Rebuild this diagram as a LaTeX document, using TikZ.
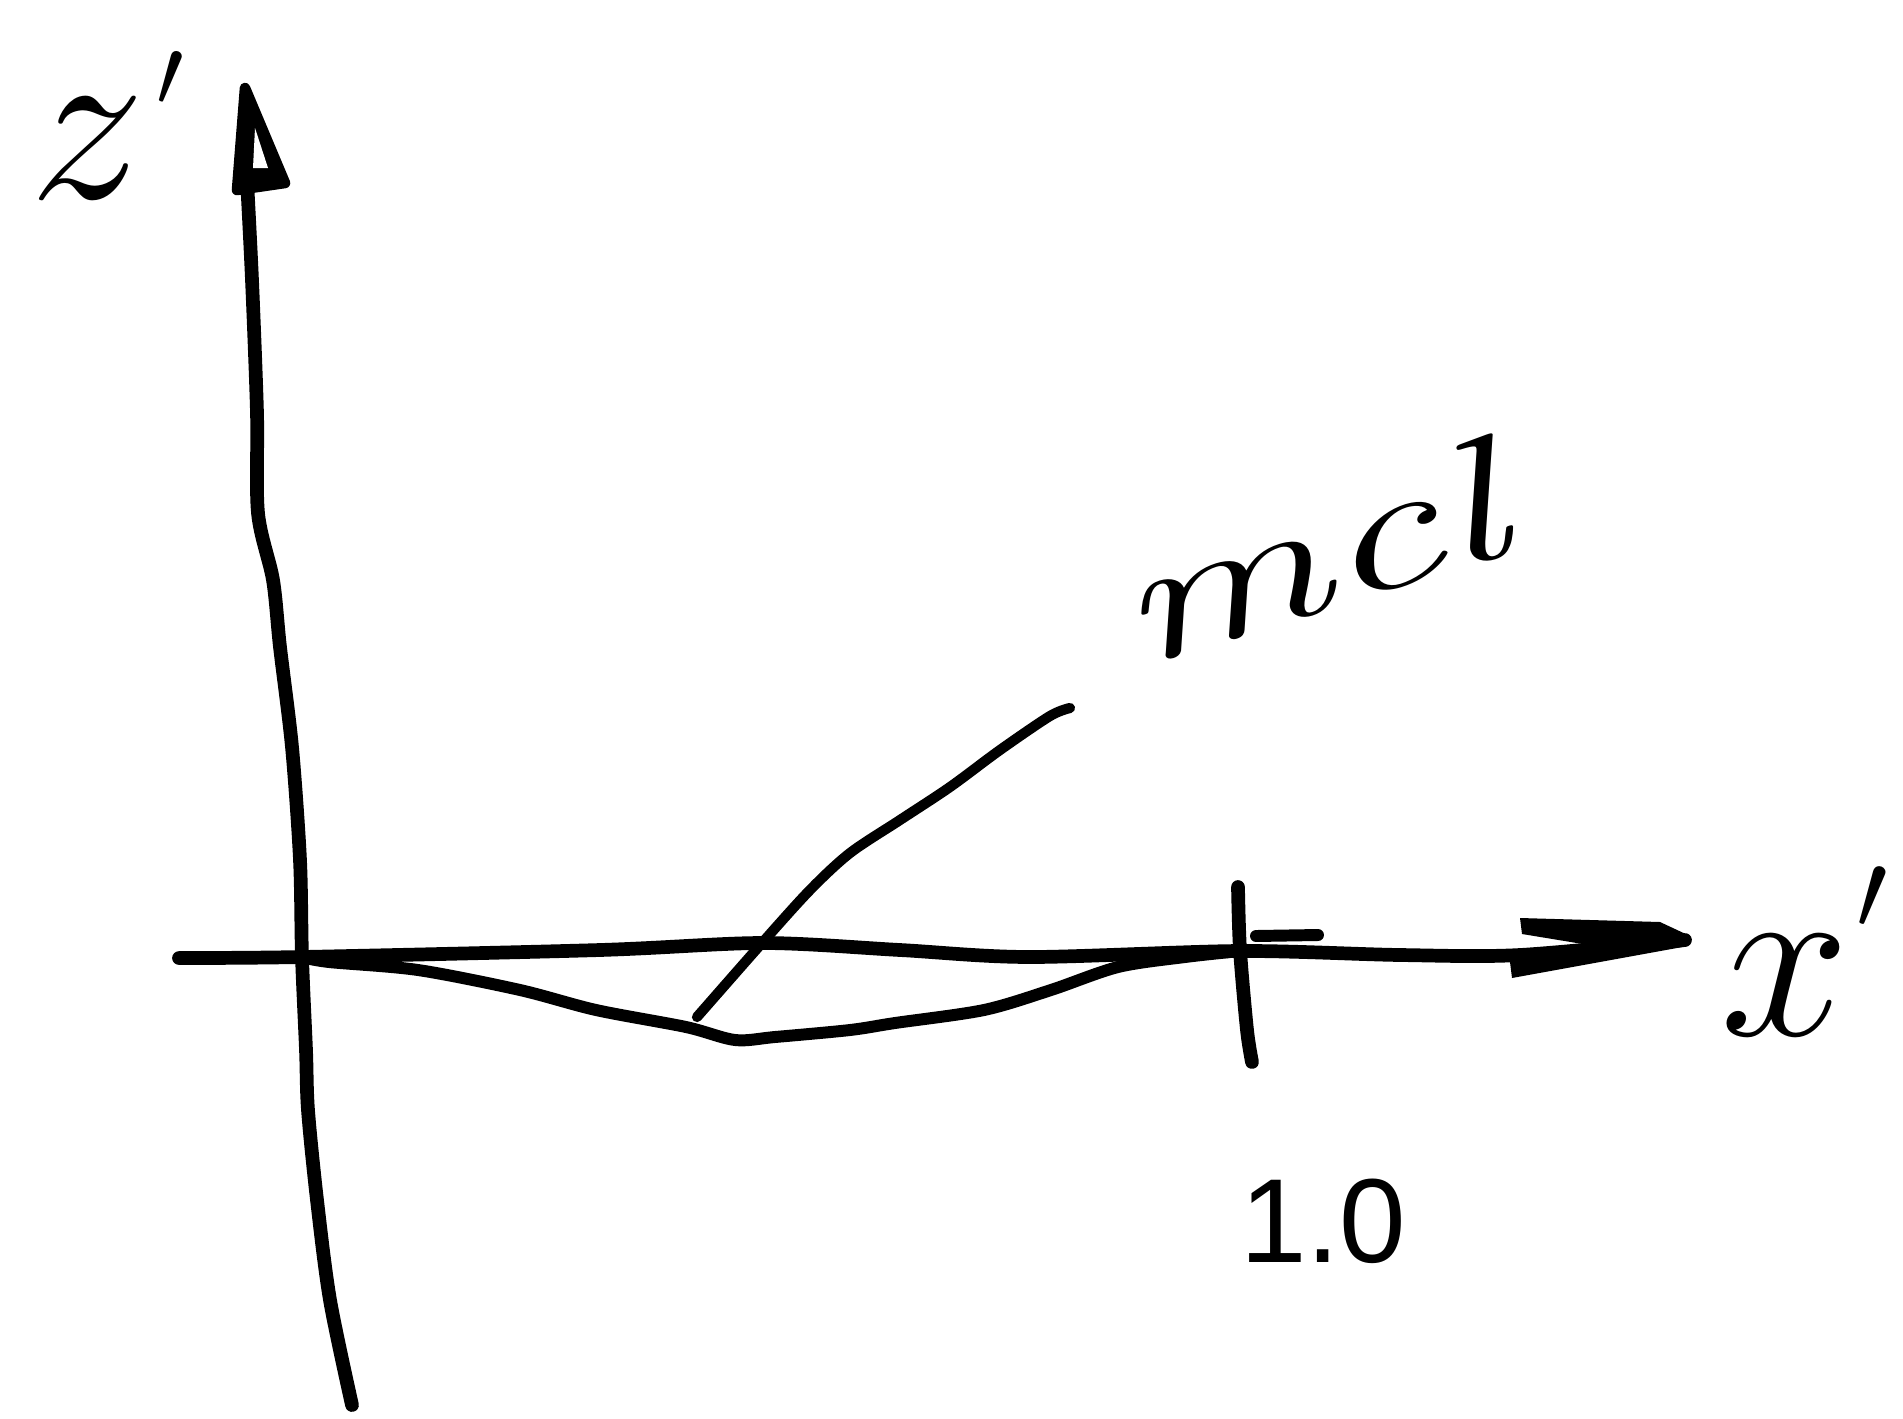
\RequirePackage{fix-cm}
\documentclass[tikz,border=0pt]{standalone}
\usepackage{fontspec}
\newfontfamily\handsans{Liberation Sans}
\begin{document}
\begin{tikzpicture}[x=0.01cm,y=-0.01cm,
  axispen/.style={line width=3.9pt, line cap=round, line join=round},
  curvepen/.style={line width=3.4pt, line cap=round, line join=round},
  leaderpen/.style={line width=2.9pt, line cap=round, line join=round},
  lab/.style={inner sep=0pt, outer sep=0pt}]
\useasboundingbox (0,0) rectangle (1903,1418);
% named points
\coordinate (ztop) at (245,88);
\coordinate (zbot) at (352,1405);
\coordinate (xleft) at (179,958);
\coordinate (xtip) at (1685,940);
\coordinate (origin) at (302,957);
\coordinate (one) at (1240,951);
\coordinate (ticktop) at (1238,887);
\coordinate (tickbot) at (1252,1062);
\coordinate (leadlow) at (697,1017);
\coordinate (leadhigh) at (1070,708);
% z' axis
\draw[axispen] plot[smooth] coordinates {(247,180) (252,280) (257,413) (258,513) (273,580) (280,647) (292,747) (300,860) (origin) (306,1050) (308,1110) (317,1200) (330,1300) (zbot)};
% z' arrowhead
\draw[line width=3pt, line join=round, fill=black] (ztop) -- (285,183) -- (237,190) -- cycle;
\fill[white] (255,128) -- (268,168) -- (253,168) -- cycle;
% x' axis
\draw[axispen] plot[smooth] coordinates {(xleft) (origin) (600,950) (763,943) (900,950) (1029,957) (one) (1400,955) (1520,955) (xtip)};
% x' arrowhead
\fill (1512,978) -- (1510,962) -- (1595,946) -- (1522,934) -- (1520,918) -- (1660,922) -- (1690,936) -- (1688,946) -- cycle;
% tick at 1.0
\draw[axispen] plot[smooth] coordinates {(ticktop) (1240,950) (1247,1030) (tickbot)};
\draw[curvepen] (1256,936) -- (1318,935);
% the curve
\draw[curvepen] plot[smooth] coordinates {(origin) (329,962) (418,970) (520,990) (596,1010) (686,1027) (735,1040) (775,1037) (850,1030) (895,1023) (984,1010) (1051,990) (1118,967) (1185,957) (one)};
% leader line
\draw[leaderpen] plot[smooth] coordinates {(leadlow) (762,943) (810,890) (850,853) (900,820) (950,787) (1000,750) (1050,716) (leadhigh)};
% labels
\node[lab, anchor=base west] (zlab) at (30,198) {\fontsize{66}{70}\selectfont$z$\kern3pt\raisebox{26pt}{\fontsize{28}{30}\selectfont$\prime$}};
\node[lab, anchor=base west] (xlab) at (1720,1035) {\fontsize{66}{70}\selectfont$x$\kern2pt\raisebox{30pt}{\fontsize{32}{34}\selectfont$\prime$}};
\node[lab, anchor=base west] (onelab) at (1240,1262) {\fontsize{34}{40}\selectfont\handsans 1.0};
\node[lab, rotate=17, anchor=base west] (mcl) at (1135,668) {\scalebox{1.3}[0.85]{\fontsize{58}{62}\selectfont\itshape mcl}};
\end{tikzpicture}
\end{document}
